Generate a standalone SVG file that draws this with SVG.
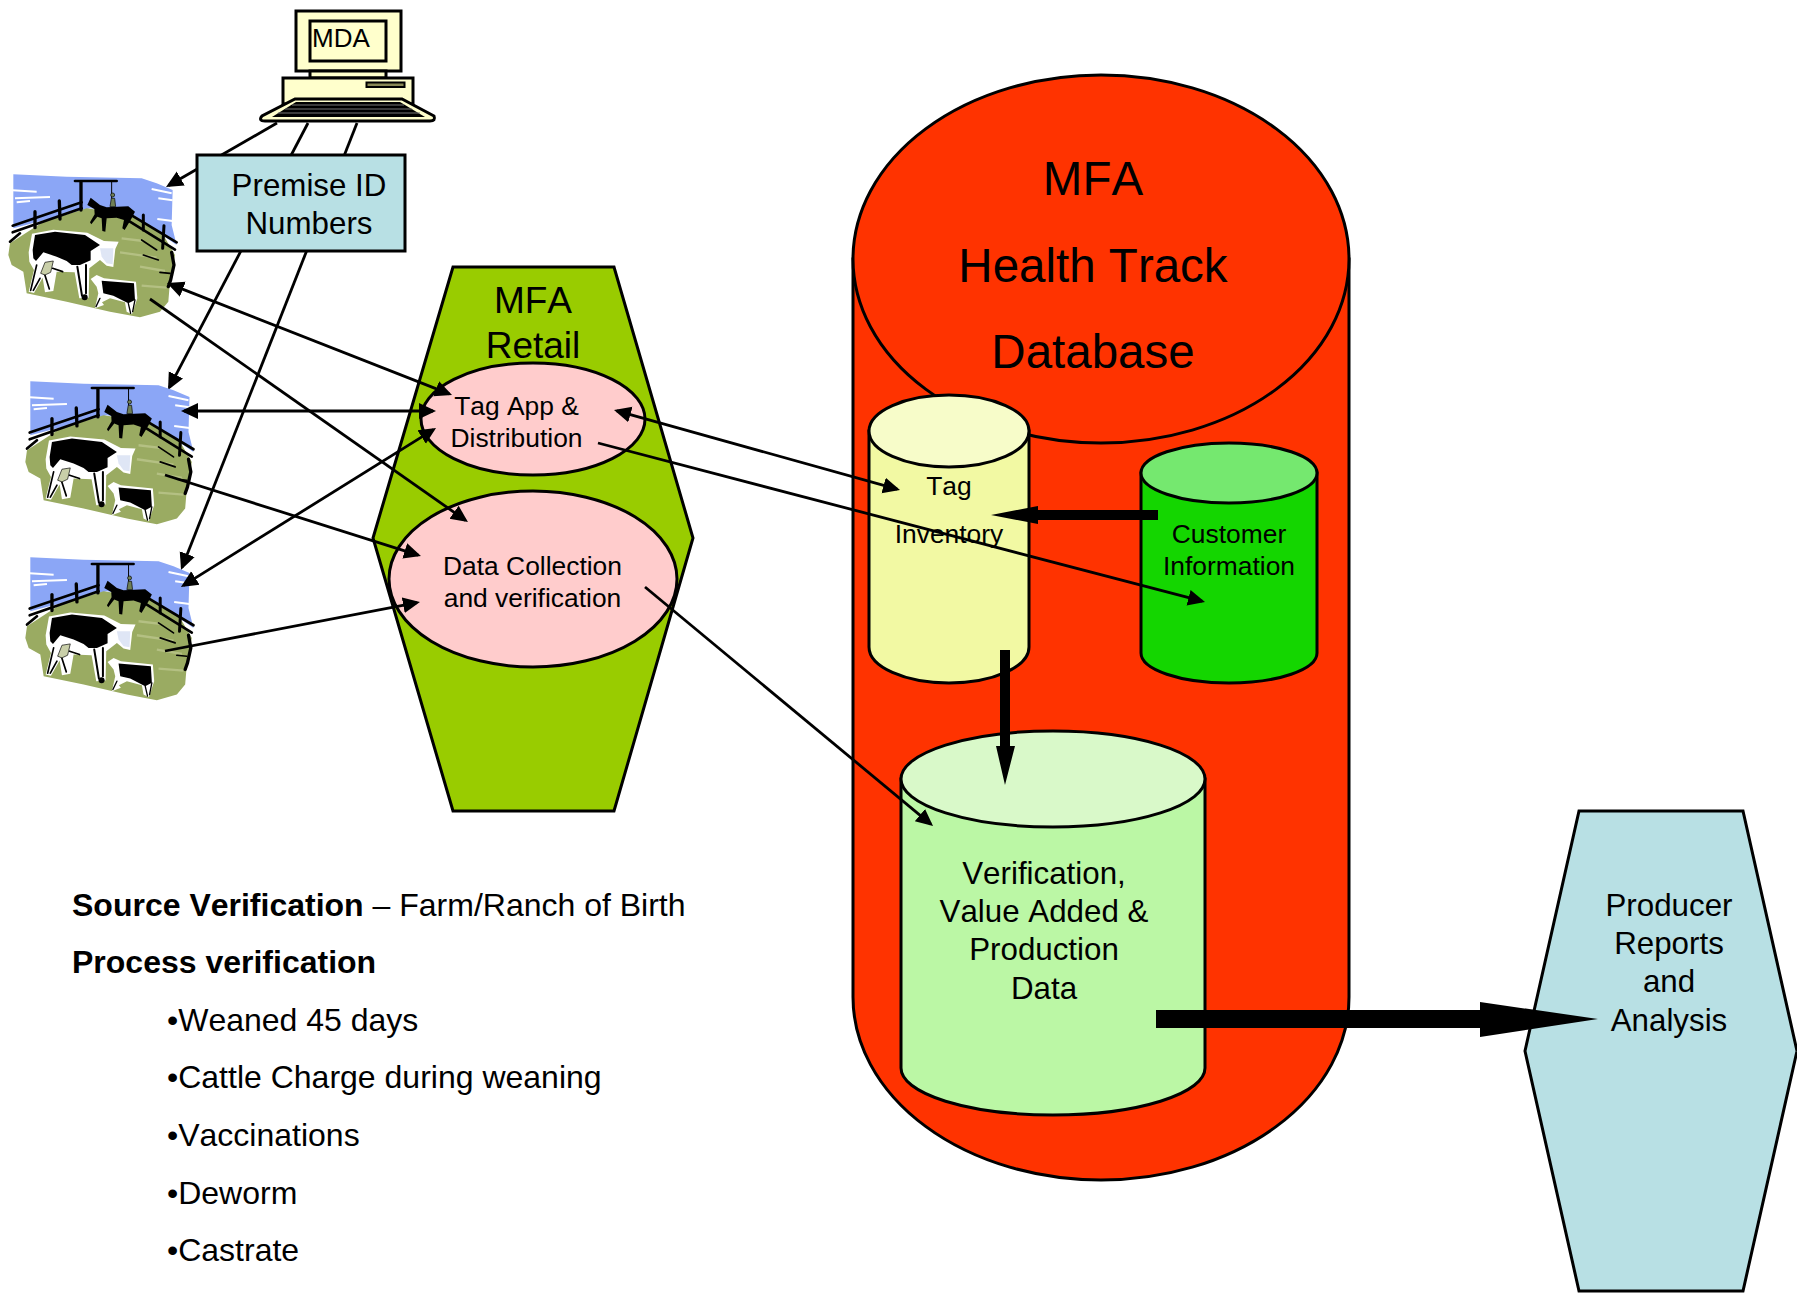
<svg xmlns="http://www.w3.org/2000/svg" xmlns:xlink="http://www.w3.org/1999/xlink" width="1797" height="1296" viewBox="0 0 1797 1296">
<style>
text{font-family:"Liberation Sans",Arial,sans-serif;fill:#000;font-kerning:none}
.s{stroke:#000;stroke-width:3}
.t26{font-size:26.4px;text-anchor:middle}
.t31{font-size:31.3px;text-anchor:middle}
.t37{font-size:37px;text-anchor:middle}
.t47{font-size:47.5px;text-anchor:middle}
.b{font-size:32px}
.c{fill:none;stroke:#000;stroke-width:2.8}
.ah{marker-end:url(#h)}
.dh{marker-end:url(#h);marker-start:url(#h)}
.k{stroke:#000;fill:none;stroke-linecap:round;stroke-linejoin:round}
</style>
<defs>
<marker id="h" markerUnits="userSpaceOnUse" markerWidth="20" markerHeight="20" refX="14" refY="9" orient="auto-start-reverse">
<path d="M0,1 L17,9 L0,17 Z" fill="#000"/>
</marker>
<g id="farm">
<path fill="#8ba6f6" d="M40,28 L200,35 L425,40 L470,55 L518,75 L515,180 L530,240 L400,150 L270,130 L40,190 Z"/>
<path d="M38,76 L110,80 M45,100 L150,96 M50,112 L90,108 M455,72 L515,85 M475,100 L518,106 M472,162 L518,168" stroke="#fff" stroke-width="6" fill="none"/>
<path fill="#9aab62" d="M30,235 L130,170 L260,130 L400,150 L490,210 L525,270 L510,350 L505,410 L480,440 L420,457 L330,440 L200,410 L80,385 L70,320 L35,300 L25,270 Z"/>
<path d="M365,220 L430,228 M360,262 L470,278 M420,305 L495,318 M425,362 L500,368" stroke="#b4c083" stroke-width="7" fill="none"/>
<g class="k">
<path stroke-width="8" d="M38,182 L245,112 M38,202 L245,130 M30,230 L60,205"/>
<path stroke-width="10" d="M105,140 L105,188 M178,108 L180,162 M243,52 L243,135"/>
<path stroke-width="8" d="M225,48 L350,48"/>
<path stroke-width="3" d="M335,48 L335,100"/>
<path stroke-width="8" d="M385,145 L530,232 M385,167 L525,254"/>
<path stroke-width="9" d="M430,150 L430,195 M492,182 L488,250"/>
<path stroke-width="10" d="M515,262 L522,300 L512,345 L505,365"/>
<path stroke-width="5" d="M425,225 L470,255 M430,270 L475,285 M480,322 L510,325"/>
</g>
<path fill="#000" d="M262,120 L272,98 L300,120 L320,127 L385,124 L405,140 L395,160 L374,195 L367,190 L372,165 L350,158 L320,160 L316,200 L307,198 L305,160 L292,155 L274,178 L270,172 L284,148 L283,132 Z"/>
<path d="M330,125 L334,100 L344,100 L347,125 Z" fill="#6f7f55" stroke="#000" stroke-width="2"/>
<circle cx="338" cy="90" r="6" fill="#6f7f55" stroke="#000" stroke-width="2"/>
<path fill="#fff" d="M86,262 L96,206 L160,194 L262,203 L312,228 L356,230 L346,252 L340,306 L320,302 L300,285 L268,310 L266,398 L238,400 L224,322 L170,320 L160,378 L135,382 L128,338 L102,384 L86,380 L102,315 L88,290 Z"/>
<path fill="#000" d="M98,255 L105,210 L165,200 L255,210 L300,240 L272,258 L272,286 L240,300 L215,300 L200,288 L170,275 L130,262 L108,288 L100,280 Z"/>
<path fill="#dfe6f5" d="M300,250 L340,250 L338,298 L320,295 L305,275 Z"/>
<g class="k">
<path stroke-width="6" d="M232,305 L246,392 M258,300 L258,385"/>
<path stroke-width="5" d="M110,300 L92,376 M132,322 L148,372 M158,310 L188,320 M120,340 L100,376"/>
</g>
<circle cx="254" cy="397" r="9" fill="#000"/>
<path fill="#c9cfa9" stroke="#000" stroke-width="2" d="M122,325 L135,292 L160,288 L152,322 L135,330 Z"/>
<path fill="#fff" d="M272,342 L290,330 L312,340 L408,350 L412,400 L396,448 L380,440 L375,412 L330,400 L306,412 L312,420 L285,430 L295,385 L290,365 Z"/>
<path fill="#000" d="M305,347 L402,355 L405,405 L385,415 L340,392 L310,385 Z"/>
<path class="k" stroke-width="4" d="M385,415 L392,445 M300,400 L288,425 M405,405 L398,440"/>
</g>
</defs>

<g id="connectors-behind">
<line class="c ah" x1="277" y1="123" x2="168.600" y2="185.500"/>
<line class="c ah" x1="308" y1="123" x2="169.400" y2="387.300"/>
<line class="c ah" x1="357" y1="123" x2="182.100" y2="567.200"/>
</g>

<g id="mda">
<rect x="296" y="11" width="105" height="60" fill="#ffc" class="s"/>
<rect x="310" y="21" width="76" height="40" fill="#ffc" class="s"/>
<rect x="310" y="71" width="76" height="7" fill="#ffc" class="s"/>
<rect x="283" y="78" width="130" height="26" fill="#ffc" class="s"/>
<rect x="366.500" y="82.500" width="38" height="4.500" fill="#888855" stroke="#000" stroke-width="2"/>
<path d="M295,99 L402,99 L434,116 Q436,121 430,121 L265,121 Q258,121 262,116 Z" fill="#ffc" class="s"/>
<path d="M296,102 L400,102 L425,117 L272,117 Z" fill="#000"/>
<path d="M292,105 L404,105 M285,109 L412,109 M278,113 L420,113" stroke="#777" stroke-width="1"/>
<text x="312" y="47" font-size="26">MDA</text>
</g>

<g id="premise">
<rect x="197" y="155" width="208" height="96" fill="#b8e0e4" class="s"/>
<text class="t31" x="309" y="196">Premise ID</text>
<text class="t31" x="309" y="234">Numbers</text>
</g>

<g id="farm1"><use xlink:href="#farm" href="#farm" transform="translate(0,165) scale(0.3333)"/></g>
<g id="farm2"><use xlink:href="#farm" href="#farm" transform="translate(17,372) scale(0.333)"/></g>
<g id="farm3"><use xlink:href="#farm" href="#farm" transform="translate(17,548) scale(0.333)"/></g>

<g id="retail">
<polygon points="453,267 614,267 693,538 614,811 453,811 373,538" fill="#99cc00" class="s"/>
<text class="t37" x="533" y="313">MFA</text>
<text class="t37" x="533" y="358">Retail</text>
</g>
<g id="tag-app">
<ellipse cx="533" cy="419" rx="112" ry="56" fill="#fcc" class="s"/>
<text class="t26" x="516.500" y="415">Tag App &amp;</text>
<text class="t26" x="516.500" y="447">Distribution</text>
</g>
<g id="data-collection">
<ellipse cx="533" cy="579" rx="144" ry="88" fill="#fcc" class="s"/>
<text class="t26" x="532.500" y="575">Data Collection</text>
<text class="t26" x="532.500" y="607">and verification</text>
</g>

<g id="database">
<path d="M853,259 L853,997 A248,183 0 0 0 1349,997 L1349,259 Z" fill="#ff3300" class="s"/>
<ellipse cx="1101" cy="259" rx="248" ry="184" fill="#ff3300" class="s"/>
<text class="t47" x="1093" y="195">MFA</text>
<text class="t47" x="1093" y="282">Health Track</text>
<text class="t47" x="1093" y="368">Database</text>
</g>

<g id="tag-inventory">
<path d="M869,431 L869,647 A80,36 0 0 0 1029,647 L1029,431 Z" fill="#f2f9a3" class="s"/>
<ellipse cx="949" cy="431" rx="80" ry="36" fill="#f7fcc9" class="s"/>
<text class="t26" x="949" y="495">Tag</text>
<text class="t26" x="949" y="543">Inventory</text>
</g>
<g id="customer">
<path d="M1141,473 L1141,653 A88,30 0 0 0 1317,653 L1317,473 Z" fill="#14d600" class="s"/>
<ellipse cx="1229" cy="473" rx="88" ry="30" fill="#75e86f" class="s"/>
<text class="t26" x="1229" y="543">Customer</text>
<text class="t26" x="1229" y="575">Information</text>
</g>
<g id="verification">
<path d="M901,779 L901,1068 A152,47 0 0 0 1205,1068 L1205,779 Z" fill="#bbf7a5" class="s"/>
<ellipse cx="1053" cy="779" rx="152" ry="48" fill="#d9f9c9" class="s"/>
<text class="t31" x="1044" y="884">Verification,</text>
<text class="t31" x="1044" y="922">Value Added &amp;</text>
<text class="t31" x="1044" y="960">Production</text>
<text class="t31" x="1044" y="999">Data</text>
</g>
<g id="producer">
<polygon points="1579,811 1743,811 1797,1051 1743,1291 1579,1291 1525,1051" fill="#b8e0e4" class="s"/>
<text class="t31" x="1669" y="916">Producer</text>
<text class="t31" x="1669" y="954">Reports</text>
<text class="t31" x="1669" y="992">and</text>
<text class="t31" x="1669" y="1031">Analysis</text>
</g>

<g id="connectors">
<line class="c dh" x1="449.200" y1="393.900" x2="169.800" y2="284.100"/>
<line class="c ah" x1="150" y1="299" x2="465.500" y2="520.300"/>
<line class="c dh" x1="184" y1="411" x2="433" y2="411"/>
<line class="c dh" x1="183.500" y1="585.400" x2="433.500" y2="429.600"/>
<line class="c ah" x1="165" y1="475" x2="418.100" y2="555.100"/>
<line class="c ah" x1="165" y1="651" x2="417" y2="602.600"/>
<line class="c dh" x1="616.900" y1="410.800" x2="897.100" y2="489.200"/>
<line class="c ah" x1="598" y1="443" x2="1202.100" y2="601.200"/>
<line class="c ah" x1="645" y1="587" x2="930.700" y2="824.100"/>
<polygon points="1158,510 1038,510 1038,506 991,515 1038,524 1038,520 1158,520" fill="#000"/>
<polygon points="1000,650 1010,650 1010,746 1015,746 1005,785 996,746 1000,746" fill="#000"/>
<polygon points="1156,1010 1480,1010 1480,1002 1598,1019 1480,1037 1480,1028 1156,1028" fill="#000"/>
</g>

<g id="notes">
<text class="b" x="72" y="916"><tspan font-weight="bold">Source Verification</tspan> – Farm/Ranch of Birth</text>
<text class="b" x="72" y="973" font-weight="bold">Process verification</text>
<text class="b" x="167" y="1031">•Weaned 45 days</text>
<text class="b" x="167" y="1088">•Cattle Charge during weaning</text>
<text class="b" x="167" y="1146">•Vaccinations</text>
<text class="b" x="167" y="1204">•Deworm</text>
<text class="b" x="167" y="1261">•Castrate</text>
</g>
</svg>
